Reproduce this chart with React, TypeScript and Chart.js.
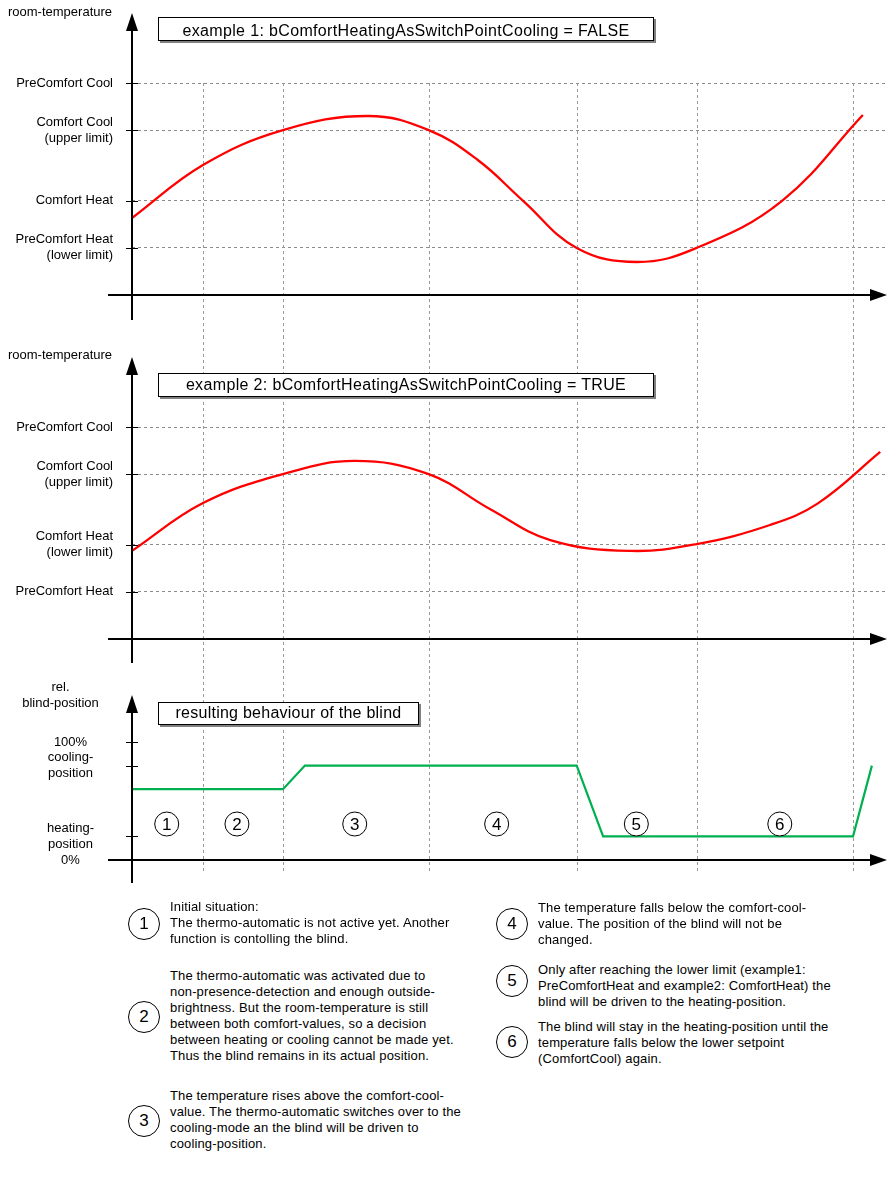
import React, { useEffect, useRef } from "react";
import { Chart, registerables } from "chart.js";

Chart.register(...registerables);

const FONT_FAMILY = "'Liberation Sans', Arial, Helvetica, sans-serif";

// ---------- shared time axis (arbitrary time units) ----------
const timeMin = 0;
const timeMax = 100;
const phaseBoundaries = [9.4, 20.0, 39.3, 58.9, 74.8, 95.5];

// ---------- temperature setpoints ----------
const tempMin = 17;
const tempMax = 26;
const setpointValues = [19, 21, 24, 26];
const setpointLabelsExample1 = [
  ["PreComfort Heat", "(lower limit)"],
  "Comfort Heat",
  ["Comfort Cool", "(upper limit)"],
  "PreComfort Cool",
];
const setpointLabelsExample2 = [
  "PreComfort Heat",
  ["Comfort Heat", "(lower limit)"],
  ["Comfort Cool", "(upper limit)"],
  "PreComfort Cool",
];

// ---------- example 1: room temperature ----------
const example1Time = [0, 9.4, 20.0, 31.3, 39.3, 45.8, 51.8, 58.9, 66.9, 74.8, 86.1, 96.8];
const example1Temp = [20.27, 22.52, 24.0, 24.6, 24.0, 22.73, 21.0, 19.0, 18.4, 19.0, 21.0, 24.64];

// ---------- example 2: room temperature ----------
const example2Time = [0, 9.4, 20.0, 29.5, 39.3, 47.4, 55.4, 66.0, 74.8, 84.5, 90.9, 99.1];
const example2Temp = [20.74, 22.77, 24.0, 24.56, 24.0, 22.52, 21.2, 20.74, 21.03, 21.84, 22.77, 24.94];

// ---------- resulting blind position (%) ----------
const blindTime = [0, 20.0, 22.9, 58.9, 62.4, 95.5, 98.0];
const blindPosition = [60, 60, 80, 80, 20, 20, 80];
const blindTickValues = [0, 20, 80, 100];
const blindTickLabels = ["0%", ["heating-", "position"], ["cooling-", "position"], "100%"];

// ---------- phase markers ----------
const phaseMarkerTime = [4.6, 13.9, 29.5, 48.3, 66.8, 85.8];
const phaseMarkerLabels = ["1", "2", "3", "4", "5", "6"];
const phaseMarkerLevel = 30.5;

// ---------- texts ----------
const example1Title = "example 1: bComfortHeatingAsSwitchPointCooling = FALSE";
const example2Title = "example 2: bComfortHeatingAsSwitchPointCooling = TRUE";
const blindTitle = "resulting behaviour of the blind";
const tempAxisTitle = "room-temperature";
const blindAxisTitle = ["rel.", "blind-position"];

const noteNumbers = ["1", "2", "3", "4", "5", "6"];
const noteLines = [
  ["Initial situation:", "The thermo-automatic is not active yet. Another", "function is contolling the blind."],
  [
    "The thermo-automatic was activated due to",
    "non-presence-detection and enough outside-",
    "brightness. But the room-temperature is still",
    "between both comfort-values, so a decision",
    "between heating or cooling cannot be made yet.",
    "Thus the blind remains in its actual position.",
  ],
  [
    "The temperature rises above the comfort-cool-",
    "value. The thermo-automatic switches over to the",
    "cooling-mode an the blind will be driven to",
    "cooling-position.",
  ],
  ["The temperature falls below the comfort-cool-", "value. The position of the blind will not be", "changed."],
  [
    "Only after reaching the lower limit (example1:",
    "PreComfortHeat and example2: ComfortHeat) the",
    "blind will be driven to the heating-position.",
  ],
  [
    "The blind will stay in the heating-position until the",
    "temperature falls below the lower setpoint",
    "(ComfortCool) again.",
  ],
];

// ---------- plugin: dashed phase lines, arrow axes, tick marks, circled phase numbers ----------
const decorPlugin = {
  id: "decor",
  beforeDatasetsDraw(chart: any, _args: any, o: any) {
    const { ctx, chartArea, scales } = chart;
    const x = scales.x;
    ctx.save();
    ctx.strokeStyle = "#9a9a9a";
    ctx.lineWidth = 1;
    ctx.setLineDash([3, 3]);
    const top = o.markTop === "area" ? chartArea.top : o.markTop;
    for (const t of o.marks) {
      const px = Math.round(x.getPixelForValue(t)) + 0.5;
      ctx.beginPath();
      ctx.moveTo(px, top);
      ctx.lineTo(px, o.markBottom);
      ctx.stroke();
    }
    ctx.restore();
  },
  afterDatasetsDraw(chart: any, _args: any, o: any) {
    const { ctx, chartArea, scales } = chart;
    const x = scales.x;
    const y = scales.y;
    const ax = x.getPixelForValue(x.min);
    const ay = y.getPixelForValue(y.min);
    ctx.save();
    ctx.strokeStyle = "#000";
    ctx.fillStyle = "#000";
    ctx.lineWidth = 2;
    // vertical axis with arrow
    ctx.beginPath();
    ctx.moveTo(ax, o.arrowTip + 12);
    ctx.lineTo(ax, o.axisBottom);
    ctx.stroke();
    ctx.beginPath();
    ctx.moveTo(ax, o.arrowTip);
    ctx.lineTo(ax - 6, o.arrowTip + 18);
    ctx.lineTo(ax + 6, o.arrowTip + 18);
    ctx.closePath();
    ctx.fill();
    // horizontal axis with arrow
    const right = chartArea.right;
    ctx.beginPath();
    ctx.moveTo(ax - 24, ay);
    ctx.lineTo(right - 12, ay);
    ctx.stroke();
    ctx.beginPath();
    ctx.moveTo(right, ay);
    ctx.lineTo(right - 17, ay - 6);
    ctx.lineTo(right - 17, ay + 6);
    ctx.closePath();
    ctx.fill();
    // tick marks
    ctx.lineWidth = 1;
    for (const t of y.ticks) {
      if (t.value === y.min) continue;
      const py = Math.round(y.getPixelForValue(t.value)) + 0.5;
      ctx.beginPath();
      ctx.moveTo(ax - 6, py);
      ctx.lineTo(ax + 6, py);
      ctx.stroke();
    }
    // circled phase numbers
    if (o.phases) {
      const py = y.getPixelForValue(o.phases.level);
      ctx.font = `17px ${FONT_FAMILY}`;
      ctx.textAlign = "center";
      ctx.textBaseline = "middle";
      o.phases.times.forEach((t: number, i: number) => {
        const px = x.getPixelForValue(t);
        ctx.fillStyle = "#fff";
        ctx.beginPath();
        ctx.arc(px, py, 12, 0, Math.PI * 2);
        ctx.fill();
        ctx.strokeStyle = "#000";
        ctx.stroke();
        ctx.fillStyle = "#000";
        ctx.fillText(o.phases.labels[i], px, py + 1);
      });
    }
    ctx.restore();
  },
};

const tickFont = { family: FONT_FAMILY, size: 13, lineHeight: "16px" };

function temperatureConfig(times: number[], temps: number[], labels: any[], decor: any, padTop: number, padBottom: number) {
  return {
    type: "line",
    data: {
      datasets: [
        {
          data: times.map((t, i) => ({ x: t, y: temps[i] })),
          borderColor: "#ff0000",
          borderWidth: 2.3,
          pointRadius: 0,
          tension: 0.4,
          cubicInterpolationMode: "default",
          fill: false,
        },
      ],
    },
    options: {
      animation: false,
      responsive: false,
      events: [],
      layout: { padding: { top: padTop, bottom: padBottom, left: 0, right: 1 } },
      plugins: { legend: { display: false }, tooltip: { enabled: false }, decor },
      scales: {
        x: { type: "linear", min: timeMin, max: timeMax, display: false },
        y: {
          type: "linear",
          min: tempMin,
          max: tempMax,
          afterFit: (s: any) => {
            s.width = 132;
          },
          afterBuildTicks: (s: any) => {
            s.ticks = setpointValues.map((v) => ({ value: v }));
          },
          ticks: {
            autoSkip: false,
            padding: 19,
            color: "#000",
            font: tickFont,
            callback: (_v: any, i: number) => labels[i],
          },
          grid: { color: "#8c8c8c", lineWidth: 1, drawTicks: false },
          border: { display: false, dash: [3, 3] },
        },
      },
    },
    plugins: [decorPlugin],
  };
}

function blindConfig(decor: any) {
  return {
    type: "line",
    data: {
      datasets: [
        {
          data: blindTime.map((t, i) => ({ x: t, y: blindPosition[i] })),
          borderColor: "#00b050",
          borderWidth: 2.2,
          pointRadius: 0,
          tension: 0,
          fill: false,
        },
      ],
    },
    options: {
      animation: false,
      responsive: false,
      events: [],
      layout: { padding: { top: 72, bottom: 50, left: 0, right: 1 } },
      plugins: { legend: { display: false }, tooltip: { enabled: false }, decor },
      scales: {
        x: { type: "linear", min: timeMin, max: timeMax, display: false },
        y: {
          type: "linear",
          min: 0,
          max: 100,
          afterFit: (s: any) => {
            s.width = 132;
          },
          afterBuildTicks: (s: any) => {
            s.ticks = blindTickValues.map((v) => ({ value: v }));
          },
          ticks: {
            autoSkip: false,
            padding: 38,
            crossAlign: "center",
            color: "#000",
            font: tickFont,
            callback: (_v: any, i: number) => blindTickLabels[i],
          },
          grid: { display: false, drawTicks: false },
          border: { display: false },
        },
      },
    },
    plugins: [decorPlugin],
  };
}

function ChartCanvas({ top, height, build }: { top: number; height: number; build: () => any }) {
  const ref = useRef<HTMLCanvasElement>(null);
  useEffect(() => {
    const chart = new Chart(ref.current as HTMLCanvasElement, build());
    return () => chart.destroy();
  }, []);
  return (
    <canvas
      ref={ref}
      width={888}
      height={height}
      style={{ position: "absolute", left: 0, top, width: 888, height, display: "block" }}
    />
  );
}

const boxStyle = (left: number, top: number, width: number, height: number, padTop: number, spacing: number): React.CSSProperties => ({
  position: "absolute",
  left,
  top,
  width,
  height,
  boxSizing: "border-box",
  border: "1px solid #000",
  background: "#fff",
  boxShadow: "2px 2px 0 #808080",
  fontSize: 16,
  lineHeight: "18px",
  paddingTop: padTop,
  letterSpacing: `${spacing}px`,
  textAlign: "center",
  whiteSpace: "nowrap",
});

const noteLayout = [
  { cx: 144, cy: 924, left: 170, top: 898.5 },
  { cx: 144, cy: 1017, left: 170, top: 968 },
  { cx: 144, cy: 1121, left: 170, top: 1088 },
  { cx: 512, cy: 924, left: 538, top: 900 },
  { cx: 512, cy: 981, left: 538, top: 961.5 },
  { cx: 512, cy: 1042, left: 538, top: 1019 },
];

export default function App() {
  return (
    <div
      style={{
        position: "absolute",
        left: 0,
        top: 0,
        width: 888,
        height: 1178,
        background: "#fff",
        fontFamily: FONT_FAMILY,
        color: "#000",
        overflow: "hidden",
      }}
    >
      <ChartCanvas
        top={0}
        height={336}
        build={() =>
          temperatureConfig(
            example1Time,
            example1Temp,
            setpointLabelsExample1,
            { marks: phaseBoundaries, markTop: "area", markBottom: 336, arrowTip: 13, axisBottom: 320 },
            83,
            41
          )
        }
      />
      <ChartCanvas
        top={336}
        height={334}
        build={() =>
          temperatureConfig(
            example2Time,
            example2Temp,
            setpointLabelsExample2,
            { marks: phaseBoundaries, markTop: 0, markBottom: 334, arrowTip: 21, axisBottom: 327 },
            91,
            31
          )
        }
      />
      <ChartCanvas
        top={670}
        height={240}
        build={() =>
          blindConfig({
            marks: phaseBoundaries,
            markTop: 0,
            markBottom: 203,
            arrowTip: 25,
            axisBottom: 213,
            phases: { times: phaseMarkerTime, labels: phaseMarkerLabels, level: phaseMarkerLevel },
          })
        }
      />

      {/* axis titles */}
      <div style={{ position: "absolute", left: 8, top: 3.5, fontSize: 13, lineHeight: "16px", whiteSpace: "nowrap" }}>
        {tempAxisTitle}
      </div>
      <div style={{ position: "absolute", left: 8, top: 346.5, fontSize: 13, lineHeight: "16px", whiteSpace: "nowrap" }}>
        {tempAxisTitle}
      </div>
      <div
        style={{
          position: "absolute",
          left: 0,
          top: 679,
          width: 121,
          fontSize: 13,
          lineHeight: "15.5px",
          textAlign: "center",
          whiteSpace: "nowrap",
        }}
      >
        {blindAxisTitle.map((l, i) => (
          <div key={i}>{l}</div>
        ))}
      </div>

      {/* title boxes */}
      <div style={boxStyle(158, 17, 496, 24, 4, 0.35)}>{example1Title}</div>
      <div style={boxStyle(158, 373, 496, 24, 2, 0.35)}>{example2Title}</div>
      <div style={boxStyle(158, 702, 261, 23, 1, 0.25)}>{blindTitle}</div>

      {/* explanations */}
      {noteLayout.map((p, i) => (
        <React.Fragment key={i}>
          <div
            style={{
              position: "absolute",
              left: p.cx - 16,
              top: p.cy - 16,
              width: 32,
              height: 32,
              boxSizing: "border-box",
              border: "1px solid #000",
              borderRadius: "50%",
              fontSize: 17,
              lineHeight: "30px",
              textAlign: "center",
            }}
          >
            {noteNumbers[i]}
          </div>
          <div
            style={{
              position: "absolute",
              left: p.left,
              top: p.top,
              fontSize: 13,
              lineHeight: "16px",
              letterSpacing: "0.15px",
              whiteSpace: "nowrap",
            }}
          >
            {noteLines[i].map((l, j) => (
              <div key={j}>{l}</div>
            ))}
          </div>
        </React.Fragment>
      ))}
    </div>
  );
}
